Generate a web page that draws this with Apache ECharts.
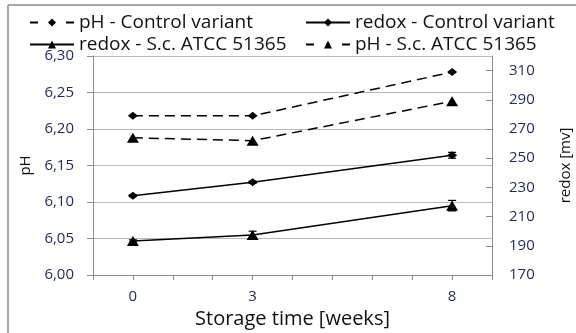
<!DOCTYPE html>
<html>
<head>
<meta charset="utf-8">
<script src="https://cdn.jsdelivr.net/npm/echarts@6/dist/echarts.min.js"></script>
<style>
html,body{margin:0;padding:0;background:#fff;}
#chart{width:576px;height:333px;}
</style>
</head>
<body>
<div id="chart"></div>
<script>
// ---- data ----
var weeks = [0, 3, 8];
var xTickLabels = [0, 3, 8];
var phTickLabels = [6.00, 6.05, 6.10, 6.15, 6.20, 6.25, 6.30];
var redoxTickLabels = [170, 190, 210, 230, 250, 270, 290, 310];

var phControl = [6.218, 6.218, 6.278];
var redoxControl = [224.3, 233.5, 252.0];
var redoxSc = [193.3, 197.4, 217.5];
var phSc = [6.188, 6.184, 6.238];

var redoxControlErr = [0.6, 0.8, 2.0];
var redoxScErr = [0.8, 2.6, 3.6];

var seriesNames = [
  'pH - Control variant',
  'redox - Control variant',
  'redox - S.c. ATCC 51365',
  'pH - S.c. ATCC 51365'
];

function pairs(xs, ys) { return xs.map(function (x, i) { return [x, ys[i]]; }); }
function errData(xs, ys, es) { return xs.map(function (x, i) { return [x, ys[i] - es[i], ys[i] + es[i]]; }); }

var FONT = 'Open Sans';
var chart = echarts.init(document.getElementById('chart'), null, { renderer: 'canvas' });

function errSeries(data) {
  return {
    type: 'custom',
    yAxisIndex: 1,
    silent: true,
    z: 1,
    data: data,
    renderItem: function (params, api) {
      var x = api.value(0);
      var lo = api.coord([x, api.value(1)]);
      var hi = api.coord([x, api.value(2)]);
      var hw = 4;
      var st = { stroke: '#000', lineWidth: 1.2 };
      return {
        type: 'group',
        children: [
          { type: 'line', shape: { x1: lo[0], y1: lo[1], x2: hi[0], y2: hi[1] }, style: st },
          { type: 'line', shape: { x1: lo[0] - hw, y1: lo[1], x2: lo[0] + hw, y2: lo[1] }, style: st },
          { type: 'line', shape: { x1: hi[0] - hw, y1: hi[1], x2: hi[0] + hw, y2: hi[1] }, style: st }
        ]
      };
    }
  };
}

function legendItem(name, left, top, dashed) {
  var l = {
    data: [name],
    left: left,
    top: top,
    itemWidth: 44,
    itemHeight: 10,
    itemGap: 0,
    padding: 0,
    selectedMode: false,
    textStyle: { fontFamily: FONT, fontSize: 19, color: '#111' }
  };
  if (dashed) { l.lineStyle = { type: [8, 28] }; }
  return l;
}

var lineCommon = {
  type: 'line',
  symbolKeepAspect: false,
  color: '#000',
  z: 3
};

var option = {
  animation: false,
  backgroundColor: '#fff',
  graphic: [
    { type: 'line', shape: { x1: 8, y1: 5, x2: 576, y2: 5 }, style: { stroke: '#8a8a8a', lineWidth: 1.5 } },
    { type: 'line', shape: { x1: 8, y1: 5, x2: 8, y2: 333 }, style: { stroke: '#8a8a8a', lineWidth: 1.5 } }
  ],
  legend: [
    legendItem(seriesNames[0], 29, 13, true),
    legendItem(seriesNames[1], 305, 13, false),
    legendItem(seriesNames[2], 29, 35, false),
    legendItem(seriesNames[3], 305, 35, true)
  ],
  grid: { left: 93, right: 84, top: 56, bottom: 58, containLabel: false, outerBoundsMode: 'none' },
  xAxis: {
    type: 'value',
    min: -1,
    max: 9,
    interval: 1,
    name: 'Storage time [weeks]',
    nameLocation: 'middle',
    nameGap: 29,
    nameTextStyle: { fontFamily: FONT, fontSize: 20, color: '#111' },
    axisLine: { onZero: false, lineStyle: { color: '#8c8c8c', width: 1 } },
    axisTick: { show: true, inside: false, length: 5, lineStyle: { color: '#8c8c8c' } },
    axisLabel: {
      customValues: xTickLabels,
      margin: 14,
      fontFamily: FONT, fontSize: 15, color: '#1f2a55'
    },
    splitLine: { show: false }
  },
  yAxis: [
    {
      type: 'value',
      position: 'left',
      min: 6.00,
      max: 6.30,
      interval: 0.05,
      name: 'pH',
      nameLocation: 'middle',
      nameRotate: 90,
      nameGap: 56,
      nameTextStyle: { fontFamily: FONT, fontSize: 15, color: '#111' },
      axisLine: { show: true, onZero: false, lineStyle: { color: '#8c8c8c', width: 1 } },
      axisTick: { show: true, inside: false, length: 6, lineStyle: { color: '#8c8c8c' } },
      axisLabel: {
        customValues: phTickLabels,
        margin: 19,
        fontFamily: FONT, fontSize: 15, color: '#1f2a55',
        formatter: function (v) { return v.toFixed(2).replace('.', ','); }
      },
      splitLine: { show: true, lineStyle: { color: '#b8b8b8', width: 1 } }
    },
    {
      type: 'value',
      position: 'right',
      min: 170,
      max: 320,
      name: 'redox [mv]',
      nameLocation: 'middle',
      nameRotate: 90,
      nameGap: 66,
      nameTextStyle: { fontFamily: FONT, fontSize: 15, color: '#111' },
      axisLine: { show: true, onZero: false, lineStyle: { color: '#8c8c8c', width: 1 } },
      axisTick: { show: true, inside: true, length: 6, customValues: redoxTickLabels, lineStyle: { color: '#8c8c8c' } },
      axisLabel: {
        customValues: redoxTickLabels,
        margin: 17,
        fontFamily: FONT, fontSize: 15, color: '#1f2a55'
      },
      splitLine: { show: false }
    }
  ],
  series: [
    Object.assign({}, lineCommon, {
      name: seriesNames[0],
      yAxisIndex: 0,
      data: pairs(weeks, phControl),
      symbol: 'diamond',
      symbolSize: [10, 8],
      lineStyle: { color: '#000', width: 1.5, type: [10, 6] },
      itemStyle: { color: '#000' }
    }),
    Object.assign({}, lineCommon, {
      name: seriesNames[1],
      yAxisIndex: 1,
      data: pairs(weeks, redoxControl),
      symbol: 'diamond',
      symbolSize: [10, 8],
      lineStyle: { color: '#000', width: 1.5, type: 'solid' },
      itemStyle: { color: '#000' }
    }),
    Object.assign({}, lineCommon, {
      name: seriesNames[2],
      yAxisIndex: 1,
      data: pairs(weeks, redoxSc),
      symbol: 'triangle',
      symbolSize: [12, 10],
      lineStyle: { color: '#000', width: 1.5, type: 'solid' },
      itemStyle: { color: '#000' }
    }),
    Object.assign({}, lineCommon, {
      name: seriesNames[3],
      yAxisIndex: 0,
      data: pairs(weeks, phSc),
      symbol: 'triangle',
      symbolSize: [12, 10],
      lineStyle: { color: '#000', width: 1.5, type: [10, 6] },
      itemStyle: { color: '#000' }
    }),
    errSeries(errData(weeks, redoxControl, redoxControlErr)),
    errSeries(errData(weeks, redoxSc, redoxScErr))
  ]
};

chart.setOption(option);
</script>
</body>
</html>
